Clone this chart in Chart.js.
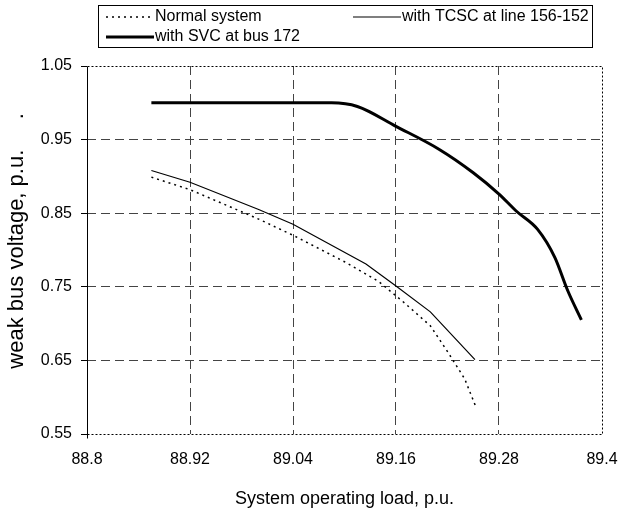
<!DOCTYPE html>
<html>
<head>
<meta charset="utf-8">
<script src="https://cdn.jsdelivr.net/npm/chart.js@4.4.1/dist/chart.umd.min.js"></script>
<style>
  html, body { margin: 0; padding: 0; background: #fff; }
  #wrap { width: 619px; height: 513px; position: relative; }
</style>
</head>
<body>
<div id="wrap"><canvas id="chart"></canvas></div>
<script>
// axis ticks
const xTicks = [88.8, 88.92, 89.04, 89.16, 89.28, 89.4];
const yTicks = [0.55, 0.65, 0.75, 0.85, 0.95, 1.05];

// Normal system
const loadNormal = [88.875, 88.92, 89.0, 89.04, 89.1, 89.14, 89.17, 89.2, 89.22, 89.24, 89.253];
const voltNormal = [0.899, 0.882, 0.842, 0.82, 0.784, 0.757, 0.728, 0.697, 0.662, 0.625, 0.587];

// with TCSC at line 156-152
const loadTcsc = [88.875, 88.92, 89.0, 89.04, 89.125, 89.16, 89.2, 89.252];
const voltTcsc = [0.908, 0.892, 0.855, 0.835, 0.781, 0.751, 0.716, 0.651];

// with SVC at bus 172
const loadSvc = [88.875, 88.95, 89.02, 89.085, 89.115, 89.16, 89.21, 89.25, 89.28, 89.3, 89.325, 89.345, 89.36, 89.376];
const voltSvc = [1.0, 1.0, 1.0, 1.0, 0.995, 0.968, 0.937, 0.905, 0.876, 0.853, 0.828, 0.79, 0.745, 0.705];

const FONT = '"Liberation Sans", Arial, sans-serif';

function pts(xs, ys) {
  return xs.map((x, i) => ({ x: x, y: ys[i] }));
}

// legend drawn like the excel one: boxed, two columns
const legendBox = { x: 98.5, y: 5.5, w: 494, h: 42 };
const legendSlots = [
  { x: 106, y: 17 },
  { x: 353, y: 17 },
  { x: 106, y: 37 }
];

const boxLegend = {
  id: 'boxLegend',
  afterDraw(chart) {
    const ctx = chart.ctx;
    ctx.save();
    ctx.strokeStyle = '#000';
    ctx.lineWidth = 1;
    ctx.strokeRect(legendBox.x, legendBox.y, legendBox.w, legendBox.h);
    ctx.font = '16px ' + FONT;
    ctx.textBaseline = 'middle';
    ctx.fillStyle = '#000';
    chart.data.datasets.forEach((ds, i) => {
      const s = legendSlots[i];
      ctx.beginPath();
      ctx.lineWidth = ds.borderWidth;
      ctx.setLineDash(ds.borderDash || []);
      ctx.moveTo(s.x, s.y);
      ctx.lineTo(s.x + 48, s.y);
      ctx.stroke();
      ctx.setLineDash([]);
      ctx.fillText(ds.label, s.x + 49, s.y);
    });
    ctx.restore();
  }
};

// dotted top, right and bottom frame of the plot area
const plotFrame = {
  id: 'plotFrame',
  beforeDatasetsDraw(chart) {
    const a = chart.chartArea;
    const ctx = chart.ctx;
    const l = Math.round(a.left) + 0.5, r = Math.round(a.right) + 0.5;
    const t = Math.round(a.top) + 0.5, b = Math.round(a.bottom) + 0.5;
    ctx.save();
    ctx.strokeStyle = '#000';
    ctx.lineWidth = 1;
    ctx.setLineDash([2, 2]);
    ctx.beginPath();
    ctx.moveTo(l, t);
    ctx.lineTo(r, t);
    ctx.lineTo(r, b);
    ctx.lineTo(l, b);
    ctx.stroke();
    ctx.setLineDash([]);
    ctx.beginPath();
    ctx.moveTo(l, t);
    ctx.lineTo(l, b + 4);
    ctx.stroke();
    ctx.restore();
  }
};

function innerOnly(ticks) {
  return (c) => (c.tick.value === ticks[0] || c.tick.value === ticks[ticks.length - 1]) ? 'rgba(0,0,0,0)' : '#444';
}

new Chart(document.getElementById('chart'), {
  type: 'line',
  data: {
    datasets: [
      {
        label: 'Normal system',
        data: pts(loadNormal, voltNormal),
        borderColor: '#000',
        borderWidth: 1.5,
        borderDash: [2, 4],
        pointRadius: 0,
        tension: 0
      },
      {
        label: 'with TCSC at line 156-152',
        data: pts(loadTcsc, voltTcsc),
        borderColor: '#000',
        borderWidth: 1.2,
        pointRadius: 0,
        tension: 0
      },
      {
        label: 'with SVC at bus 172',
        data: pts(loadSvc, voltSvc),
        borderColor: '#000',
        borderWidth: 3,
        pointRadius: 0,
        cubicInterpolationMode: 'monotone'
      }
    ]
  },
  options: {
    responsive: true,
    maintainAspectRatio: false,
    animation: false,
    events: [],
    layout: { padding: { top: 66, right: 17, left: 0, bottom: 0 } },
    plugins: {
      legend: { display: false },
      tooltip: { enabled: false }
    },
    scales: {
      x: {
        type: 'linear',
        min: 88.8,
        max: 89.4,
        afterBuildTicks: (s) => { s.ticks = xTicks.map(v => ({ value: v })); },
        afterFit: (s) => { s.height = 79; s.paddingLeft = 0; s.paddingRight = 0; },
        grid: {
          color: innerOnly(xTicks),
          drawTicks: false
        },
        border: { display: false, dash: [9, 5] },
        ticks: {
          autoSkip: false,
          maxRotation: 0,
          padding: 16,
          color: '#000',
          font: { family: FONT, size: 16 },
          callback: (v) => String(v)
        },
        title: {
          display: true,
          text: 'System operating load, p.u.',
          color: '#000',
          font: { family: FONT, size: 18 },
          padding: { top: 0, bottom: 3 }
        }
      },
      y: {
        type: 'linear',
        min: 0.55,
        max: 1.05,
        afterBuildTicks: (s) => { s.ticks = yTicks.map(v => ({ value: v })); },
        afterFit: (s) => { s.width = 87; s.paddingTop = 0; s.paddingBottom = 0; },
        grid: {
          color: innerOnly(yTicks),
          tickColor: '#000',
          tickLength: 6,
          tickBorderDash: []
        },
        border: { display: false, dash: [9, 5] },
        ticks: {
          padding: 9,
          color: '#000',
          font: { family: FONT, size: 16 },
          callback: (v) => String(v)
        },
        title: {
          display: true,
          text: '   weak bus voltage, p.u.     .',
          color: '#000',
          font: { family: FONT, size: 22 },
          padding: { top: 4, bottom: 0 }
        }
      }
    }
  },
  plugins: [plotFrame, boxLegend]
});
</script>
</body>
</html>
